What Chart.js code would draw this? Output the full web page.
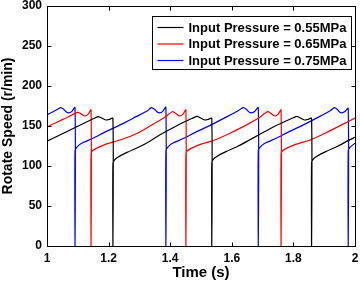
<!DOCTYPE html>
<html>
<head>
<meta charset="utf-8">
<script src="https://cdn.jsdelivr.net/npm/chart.js@4/dist/chart.umd.min.js"></script>
<style>
  html, body { margin: 0; padding: 0; background: #fff; }
  #wrap { width: 360px; height: 283px; position: relative; }
</style>
</head>
<body>
<div id="wrap"><canvas id="speedChart"></canvas></div>
<script>
// ─── Data ───
const seriesLabels = ['Input Pressure = 0.55MPa', 'Input Pressure = 0.65MPa', 'Input Pressure = 0.75MPa'];
const seriesColors = ['#000000', '#ff0000', '#0000ff'];

const timeBlack = [1.000, 1.080, 1.150, 1.166, 1.176, 1.191, 1.203, 1.214, 1.214, 1.214,
    1.218, 1.230, 1.260, 1.300, 1.334, 1.367, 1.420, 1.470, 1.487, 1.497, 1.512, 1.524, 1.535, 1.535, 1.535,
    1.539, 1.551, 1.581, 1.621, 1.655, 1.688, 1.741, 1.794, 1.811, 1.821, 1.836, 1.848, 1.859, 1.859, 1.859,
    1.863, 1.875, 1.905, 1.945, 1.979, 2.000];
const speedBlack = [131, 146, 159, 161.8, 160.3, 157.5, 158.3, 159.6, 0, 103,
    107, 111, 117, 124, 131, 139, 150, 159.3, 162, 160.3, 157.5, 158.3, 159.6, 0, 104,
    108, 112, 118, 125, 132, 139, 150, 159.3, 162, 160.3, 157.5, 158.3, 159.6, 0, 104,
    108, 112, 118, 125, 132, 136];

const timeRed = [1.000, 1.050, 1.090, 1.100, 1.109, 1.123, 1.133, 1.143, 1.143, 1.143,
    1.148, 1.160, 1.190, 1.237, 1.294, 1.343, 1.383, 1.398, 1.408, 1.417, 1.431, 1.441, 1.451, 1.451, 1.451,
    1.456, 1.468, 1.498, 1.545, 1.594, 1.651, 1.691, 1.706, 1.717, 1.726, 1.740, 1.750, 1.760, 1.760, 1.760,
    1.765, 1.777, 1.807, 1.854, 1.903, 1.960, 2.000];
const speedRed = [149, 158, 165.5, 167, 165.5, 162.5, 164.5, 170, 0, 116,
    119, 122, 127, 132.5, 141, 152, 161, 165.5, 168, 166, 162.5, 164.5, 170, 0, 116,
    119, 122, 127, 132.5, 141, 152, 161, 165.5, 168, 166, 162.5, 164.5, 170, 0, 116,
    119, 122, 127, 132.5, 141, 152, 160];

const timeBlue = [1.000, 1.030, 1.044, 1.054, 1.063, 1.070, 1.080, 1.091, 1.091, 1.091,
    1.096, 1.111, 1.151, 1.191, 1.241, 1.291, 1.326, 1.339, 1.349, 1.358, 1.365, 1.375, 1.386, 1.386, 1.386,
    1.391, 1.406, 1.446, 1.486, 1.536, 1.586, 1.622, 1.637, 1.647, 1.656, 1.664, 1.674, 1.686, 1.686, 1.686,
    1.691, 1.706, 1.746, 1.786, 1.836, 1.886, 1.919, 1.933, 1.942, 1.950, 1.957, 1.967, 1.978, 1.978, 1.978,
    1.983, 1.998, 2.000];
const speedBlue = [164, 170, 173, 171, 167.5, 166.5, 168, 173, 0, 119,
    123, 128, 135, 143, 152, 162, 169, 173, 171, 167.5, 166.5, 168, 173.5, 0, 119,
    123, 128, 135, 143, 152, 162, 169.5, 173, 171, 167.5, 166.5, 168, 173, 0, 119,
    123, 128, 135, 143, 152, 162, 169, 173, 171, 167.5, 166.5, 168, 172, 0, 119,
    123, 128, 128.3];

const xTicks = [1, 1.2, 1.4, 1.6, 1.8, 2];
const yTicks = [0, 50, 100, 150, 200, 250, 300];

const FONT = "Arial, 'Liberation Sans', sans-serif";

function toPoints(ts, vs) {
    return ts.map((t, i) => ({ x: t, y: vs[i] }));
}

// ─── Frame + inward ticks ───
const frameTicks = {
    id: 'frameTicks',
    afterDatasetsDraw(chart) {
        const { ctx, chartArea: a, scales } = chart;
        const L = Math.round(a.left) + 0.5, R = Math.round(a.right) + 0.5;
        const T = Math.round(a.top) + 0.5, B = Math.round(a.bottom) + 0.5;
        ctx.save();
        ctx.strokeStyle = '#000';
        ctx.lineWidth = 1;
        ctx.strokeRect(L, T, R - L, B - T);
        ctx.beginPath();
        xTicks.forEach(v => {
            const px = Math.round(scales.x.getPixelForValue(v)) + 0.5;
            ctx.moveTo(px, B); ctx.lineTo(px, B - 4);
            ctx.moveTo(px, T); ctx.lineTo(px, T + 4);
        });
        yTicks.forEach(v => {
            const py = Math.round(scales.y.getPixelForValue(v)) + 0.5;
            ctx.moveTo(L, py); ctx.lineTo(L + 4, py);
            ctx.moveTo(R, py); ctx.lineTo(R - 4, py);
        });
        ctx.stroke();
        ctx.restore();
    }
};

// ─── Boxed legend inside the plot ───
const legendBox = {
    id: 'legendBox',
    afterDraw(chart) {
        const { ctx, chartArea: a } = chart;
        const x = Math.round(a.right) - 203 + 0.5, y = Math.round(a.top) + 10 + 0.5;
        const w = 199, h = 53;
        ctx.save();
        ctx.fillStyle = '#fff';
        ctx.fillRect(x, y, w, h);
        ctx.strokeStyle = '#000';
        ctx.lineWidth = 1;
        ctx.strokeRect(x, y, w, h);
        ctx.font = 'bold 13px ' + FONT;
        ctx.textBaseline = 'middle';
        const rows = [11, 27.5, 44];
        chart.data.datasets.forEach((ds, i) => {
            const ry = y + rows[i];
            ctx.strokeStyle = ds.borderColor;
            ctx.lineWidth = 1.2;
            ctx.beginPath();
            ctx.moveTo(x + 5, ry); ctx.lineTo(x + 31, ry);
            ctx.stroke();
            ctx.fillStyle = '#000';
            ctx.fillText(ds.label, x + 36, ry + 0.5);
        });
        ctx.restore();
    }
};

const datasets = [
    toPoints(timeBlack, speedBlack),
    toPoints(timeRed, speedRed),
    toPoints(timeBlue, speedBlue)
].map((pts, i) => ({
    label: seriesLabels[i],
    data: pts,
    showLine: true,
    borderColor: seriesColors[i],
    backgroundColor: seriesColors[i],
    borderWidth: 1.2,
    pointRadius: 0,
    tension: 0.25,
    fill: false
}));

new Chart(document.getElementById('speedChart'), {
    type: 'scatter',
    data: { datasets },
    options: {
        responsive: true,
        maintainAspectRatio: false,
        animation: false,
        layout: { padding: { top: 6, right: 5, left: 0, bottom: 0 } },
        plugins: {
            legend: { display: false },
            tooltip: { enabled: false }
        },
        scales: {
            x: {
                type: 'linear',
                min: 1,
                max: 2,
                afterFit: s => { s.height = 37; s.paddingLeft = 0; s.paddingRight = 0; },
                afterBuildTicks: s => { s.ticks = xTicks.map(v => ({ value: v })); },
                grid: { display: false, drawTicks: false },
                border: { display: false },
                ticks: {
                    padding: 5,
                    color: '#000',
                    font: { family: FONT, size: 12, weight: 'bold' },
                    callback: v => String(+v.toFixed(1))
                },
                title: {
                    display: true,
                    text: 'Time (s)',
                    color: '#000',
                    font: { family: FONT, size: 15, weight: 'bold' },
                    padding: { top: 0, bottom: 1 }
                }
            },
            y: {
                min: 0,
                max: 300,
                afterFit: s => { s.width = 47; s.paddingTop = 0; s.paddingBottom = 0; },
                afterBuildTicks: s => { s.ticks = yTicks.map(v => ({ value: v })); },
                grid: { display: false, drawTicks: false },
                border: { display: false },
                ticks: {
                    padding: 5,
                    color: '#000',
                    font: { family: FONT, size: 12, weight: 'bold' }
                },
                title: {
                    display: true,
                    text: 'Rotate Speed (r/min)',
                    color: '#000',
                    font: { family: FONT, size: 14, weight: 'bold' },
                    padding: { top: 0, bottom: 0 }
                }
            }
        }
    },
    plugins: [frameTicks, legendBox]
});
</script>
</body>
</html>
